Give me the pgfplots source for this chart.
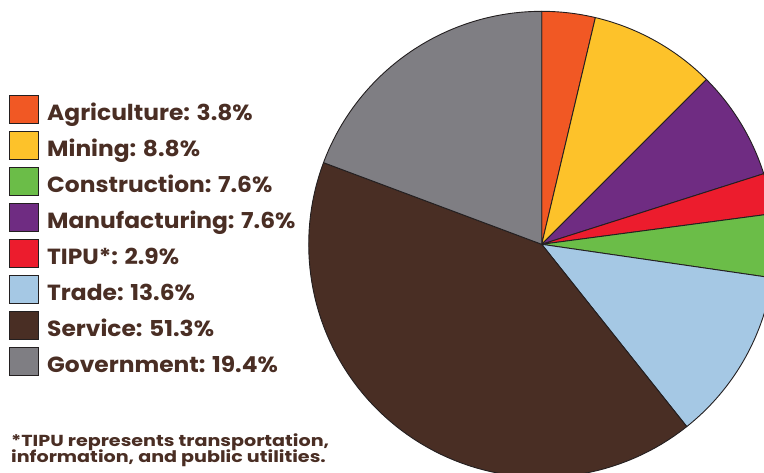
\documentclass[border=0pt]{standalone}
\usepackage{pgfplots}
\pgfplotsset{compat=1.18}
\usepackage{pgfplotstable}
\usepackage{fontspec}
\setmainfont{Poppins}
\newfontfamily\legfont{Poppins}[FakeStretch=1.065]
\newfontfamily\notefont{Poppins}[FakeStretch=1.2]

\definecolor{cAgr}{RGB}{241,88,36}
\definecolor{cMin}{RGB}{253,194,42}
\definecolor{cCon}{RGB}{107,189,72}
\definecolor{cMan}{RGB}{111,44,130}
\definecolor{cTip}{RGB}{236,28,45}
\definecolor{cTra}{RGB}{165,200,228}
\definecolor{cSer}{RGB}{73,46,36}
\definecolor{cGov}{RGB}{127,126,131}
\definecolor{txt}{RGB}{74,46,36}
\definecolor{edge}{RGB}{35,31,32}

% slice sizes as drawn in the pie, clockwise from the top (percent)
\pgfplotstableread{
sector value color
Agriculture 3.7 cAgr
Mining 8.8 cMin
Manufacturing 7.6 cMan
TIPU 2.8 cTip
Construction 4.4 cCon
Trade 12.0 cTra
Service 41.4 cSer
Government 19.3 cGov
}\piedata

\begin{document}
\begin{tikzpicture}
\begin{axis}[
    x=1bp, y=1bp,
    xmin=0, xmax=764, ymin=0, ymax=473,
    at={(0,0)}, anchor=south west,
    hide axis, clip=true
]
\def\cx{541.7}
\def\cy{228.7}
\def\rr{233}
\def\cum{0}
\pgfplotsforeachungrouped \i in {0,...,7}{
    \pgfplotstablegetelem{\i}{value}\of\piedata \let\v\pgfplotsretval
    \pgfplotstablegetelem{\i}{color}\of\piedata \let\c\pgfplotsretval
    \pgfmathsetmacro\aend{90-3.6*\cum}
    \pgfmathsetmacro\cumnew{\cum+\v}
    \pgfmathsetmacro\astart{90-3.6*\cumnew}
    \edef\temp{\noexpand\addplot[fill=\c, draw=edge, line width=0.9pt,
        line join=round, domain=\astart:\aend, samples=80]
        ({\cx+\rr*cos(x)},{\cy+\rr*sin(x)}) -- (axis cs:\cx,\cy) -- cycle;}
    \temp
    \let\cum\cumnew
}
\end{axis}

\begin{scope}[x=1bp, y=1bp]
\foreach \c/\t [count=\k from 0] in {
    cAgr/{Agriculture: 3.8\%},
    cMin/{Mining: 8.8\%},
    cCon/{Construction: 7.6\%},
    cMan/{Manufacturing: 7.6\%},
    cTip/{TIPU*: 2.9\%},
    cTra/{Trade: 13.6\%},
    cSer/{Service: 51.3\%},
    cGov/{Government: 19.4\%}}{
    \fill[\c, draw=edge, line width=0.8bp] (9.5,{378-36*\k}) rectangle (38.3,{349.7-36*\k});
    \node[anchor=base west, inner sep=0pt, text=txt, font=\legfont\fontsize{22}{26}\selectfont\bfseries]
        at (47,{353-36*\k}) {\t};
}
\node[anchor=base west, inner sep=0pt, text=txt, font=\notefont\fontsize{16}{18}\selectfont\bfseries]
    at (11,26.3) {*TIPU represents transportation,};
\node[anchor=base west, inner sep=0pt, text=txt, font=\notefont\fontsize{16}{18}\selectfont\bfseries]
    at (11,10.3) {information, and public utilities.};
\end{scope}
\pgfresetboundingbox
\useasboundingbox (0,0) rectangle (764bp,473bp);
\end{tikzpicture}
\end{document}
